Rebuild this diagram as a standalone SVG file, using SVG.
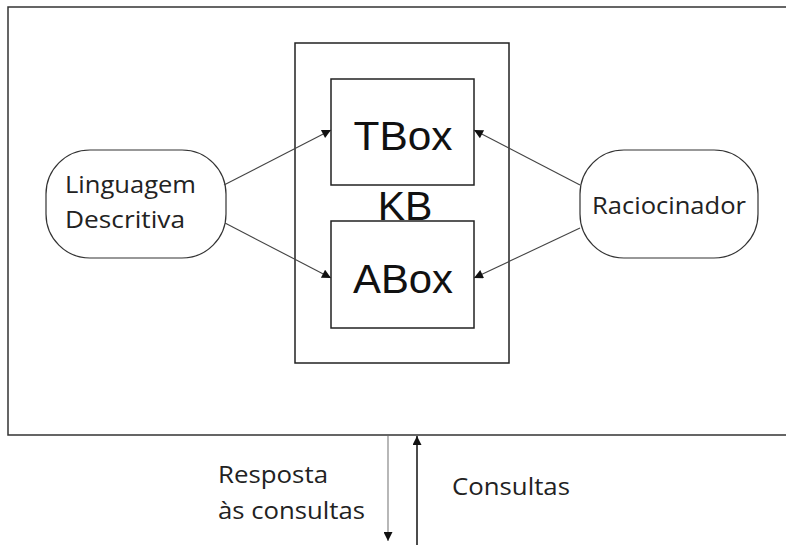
<svg xmlns="http://www.w3.org/2000/svg" width="786" height="545" viewBox="0 0 786 545">
<defs>
<style>
.box{fill:#fff;stroke:#222;stroke-width:1.5}
.pill{fill:#fff;stroke:#333;stroke-width:1.2}
.conn{stroke:#444;stroke-width:1.1;fill:none}
.big{font-family:"Liberation Sans",Arial,sans-serif;font-size:41px;fill:#111;text-anchor:middle}
.lbl{font-family:"Open Sans","Liberation Sans",sans-serif;font-size:24px;fill:#222}
</style>
<marker id="ah" viewBox="0 0 10 10" refX="10" refY="5" markerWidth="15" markerHeight="9" markerUnits="userSpaceOnUse" orient="auto">
<path d="M0,0 L10,5 L0,10 z" fill="#111"/>
</marker>
</defs>
<rect width="786" height="545" fill="#fff"/>
<g id="system">
<path d="M800,7 H8 V435 H800" fill="none" stroke="#333" stroke-width="1.5"/>
</g>
<g id="kb">
<rect class="box" x="295" y="43" width="214" height="320"/>
<text class="big" x="405" y="220" font-size="37">KB</text>
</g>
<g id="tbox">
<rect class="box" x="331" y="79" width="143" height="106"/>
<text class="big" x="403" y="150" textLength="99" lengthAdjust="spacingAndGlyphs">TBox</text>
</g>
<g id="abox">
<rect class="box" x="331" y="221" width="143" height="107"/>
<text class="big" x="403" y="293" textLength="100" lengthAdjust="spacingAndGlyphs">ABox</text>
</g>
<g id="linguagem">
<rect class="pill" x="46" y="150" width="180" height="108" rx="44" ry="44"/>
<text class="lbl" x="65" y="193" textLength="131" lengthAdjust="spacingAndGlyphs">Linguagem</text>
<text class="lbl" x="65" y="228" textLength="120" lengthAdjust="spacingAndGlyphs">Descritiva</text>
</g>
<g id="raciocinador">
<rect class="pill" x="580" y="150" width="178" height="108" rx="44" ry="44"/>
<text class="lbl" x="592" y="214" textLength="154" lengthAdjust="spacingAndGlyphs">Raciocinador</text>
</g>
<g id="labels">
<text class="lbl" x="218" y="483" textLength="110" lengthAdjust="spacingAndGlyphs">Resposta</text>
<text class="lbl" x="218" y="519" textLength="147" lengthAdjust="spacingAndGlyphs">às consultas</text>
<text class="lbl" x="452" y="495" textLength="118" lengthAdjust="spacingAndGlyphs">Consultas</text>
</g>
<g id="connectors">
<line class="conn" x1="224" y1="185" x2="331" y2="130" marker-end="url(#ah)"/>
<line class="conn" x1="225" y1="223" x2="331" y2="278" marker-end="url(#ah)"/>
<line class="conn" x1="580" y1="185" x2="474" y2="130" marker-end="url(#ah)"/>
<line class="conn" x1="580" y1="228" x2="474" y2="278" marker-end="url(#ah)"/>
<line x1="388" y1="436" x2="388" y2="541" stroke="#888" stroke-width="1.2" marker-end="url(#ah)"/>
<line x1="417" y1="545" x2="417" y2="436" stroke="#111" stroke-width="1.5" marker-end="url(#ah)"/>
</g>
</svg>
